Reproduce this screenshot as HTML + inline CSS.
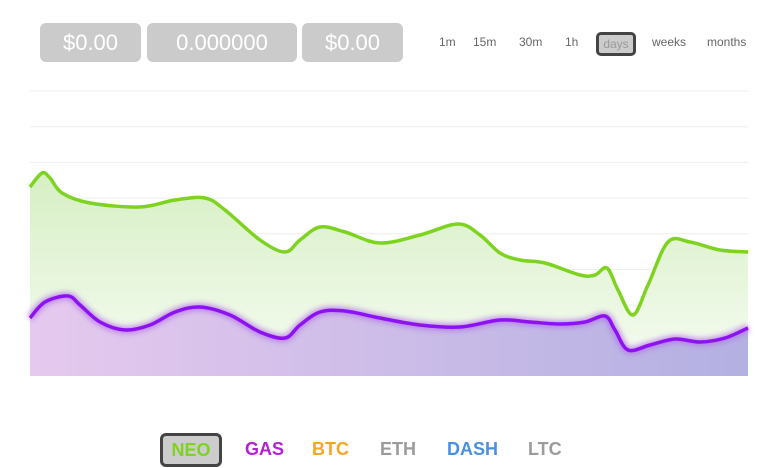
<!DOCTYPE html>
<html><head><meta charset="utf-8"><style>
body{margin:0;width:758px;height:468px;background:#fff;font-family:"Liberation Sans",sans-serif;position:relative;overflow:hidden}
.box{position:absolute;top:23px;height:39px;background:#cbcbcb;border-radius:6px;color:#fff;font-size:22px;line-height:39px;text-align:center}
.tf{position:absolute;top:35px;font-size:12px;color:#666}
.lg{position:absolute;top:439px;font-size:18px;font-weight:bold}
</style></head><body>
<div class="box" style="left:40px;width:101px">$0.00</div>
<div class="box" style="left:147px;width:150px">0.000000</div>
<div class="box" style="left:302px;width:101px">$0.00</div>
<div class="tf" style="left:439px">1m</div>
<div class="tf" style="left:473px">15m</div>
<div class="tf" style="left:519px">30m</div>
<div class="tf" style="left:565px">1h</div>
<div class="tf" style="left:596px;top:32px;width:34px;height:18px;line-height:18px;text-align:center;border:3px solid #444;border-radius:5px;background:#ccc;color:#999">days</div>
<div class="tf" style="left:652px">weeks</div>
<div class="tf" style="left:707px">months</div>
<svg id="c" width="758" height="468" style="position:absolute;left:0;top:0">
<defs>
<linearGradient id="gg" x1="0" y1="0" x2="0" y2="1"><stop offset="0" stop-color="#d6efc4"/><stop offset="1" stop-color="#f7fcf3"/></linearGradient>
<linearGradient id="pg" x1="0" y1="0" x2="1" y2="0"><stop offset="0" stop-color="#e6c9ee"/><stop offset="1" stop-color="#b3b0e2"/></linearGradient>
<filter id="glow" x="-5%" y="-50%" width="110%" height="200%"><feGaussianBlur stdDeviation="3"/></filter>
</defs>
</svg>
<div class="lg" style="left:160px;top:433px;width:56px;height:28px;line-height:28px;text-align:center;border:3px solid #444;border-radius:6px;background:#ccc;color:#7ed321">NEO</div>
<div class="lg" style="left:245px;color:#b41fd6">GAS</div>
<div class="lg" style="left:312px;color:#f5a623">BTC</div>
<div class="lg" style="left:380px;color:#9b9b9b">ETH</div>
<div class="lg" style="left:447px;color:#4a90e2">DASH</div>
<div class="lg" style="left:528px;color:#9b9b9b">LTC</div>
<script>
const neoT=[0,12,20,32,60,110,145,175,195,230,255,270,290,315,350,390,428,450,470,490,515,550,565,577,588,603,618,638,660,690,718];
const neoV=[189,203,198,183,173,169,176,178,166,136,124,136,149,144,133,141,152,141,123,116,113,101,101,108,86,61,91,134,134,126,124];
const gasT=[0,15,38,50,70,95,120,145,170,200,230,255,270,290,315,350,390,430,470,500,530,555,575,585,598,620,645,670,695,718];
const gasV=[58,74,80,71,54,46,51,64,69,61,44,38,51,64,65,58,51,49,56,54,52,54,60,46,26,31,37,34,38,48];
const X0=30,X1=748,YB=376,tMax=718;
const sx=t=>X0+(X1-X0)*t/tMax, sy=v=>YB-v;
const svg=document.getElementById('c'),NS='http://www.w3.org/2000/svg';
for(let i=0;i<8;i++){const l=document.createElementNS(NS,'line');


const y=91+i*35.7;l.setAttribute('x1',X0);l.setAttribute('x2',X1);l.setAttribute('y1',y);l.setAttribute('y2',y);l.setAttribute('stroke','#eee');svg.appendChild(l);}
function path(T,V){const p=T.map((t,i)=>[sx(t),sy(V[i])]);let d='M'+p[0];
for(let i=0;i<p.length-1;i++){const a=p[Math.max(i-1,0)],b=p[i],c=p[i+1],e=p[Math.min(i+2,p.length-1)];
d+=' C'+(b[0]+(c[0]-a[0])/6)+','+(b[1]+(c[1]-a[1])/6)+' '+(c[0]-(e[0]-b[0])/6)+','+(c[1]-(e[1]-b[1])/6)+' '+c;}return d;}
function add(d,attrs,name){const e=document.createElementNS(NS,'path');e.setAttribute('d',d);for(const k in attrs)e.setAttribute(k,attrs[k]);


svg.appendChild(e);}
const nd=path(neoT,neoV),gd=path(gasT,gasV),close=' L'+X1+','+YB+' L'+X0+','+YB+' Z';
add(nd+close,{fill:'url(#gg)'},'neo-area');
add(gd+close,{fill:'url(#pg)'},'gas-area');
add(nd,{fill:'none',stroke:'#7ed321',"stroke-width":3.5},'neo-line');
add(gd,{fill:'none',stroke:'#b26de8',"stroke-width":7,filter:'url(#glow)',opacity:0.8},'gas-line-glow');
add(gd,{fill:'none',stroke:'#8e12f0',"stroke-width":3.5},'gas-line');
</script>
</body></html>
